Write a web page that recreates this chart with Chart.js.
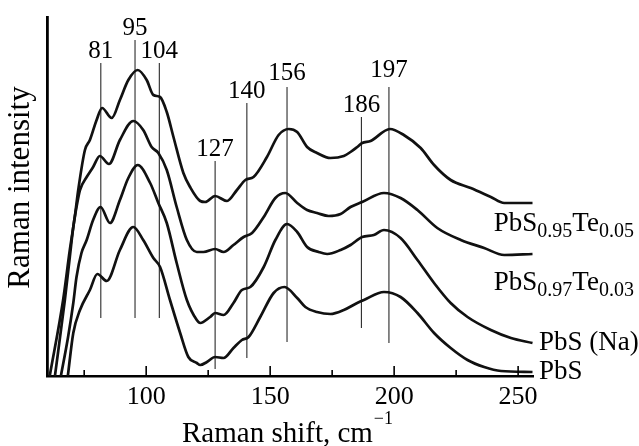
<!DOCTYPE html>
<html>
<head>
<meta charset="utf-8">
<script src="https://cdn.jsdelivr.net/npm/chart.js@4"></script>
<style>
  body { margin: 0; background: #fff; }
</style>
</head>
<body>
<canvas id="ramanChart" width="639" height="446"></canvas>
<script>
// Raman shift (cm-1) and intensity (arb. units), one pair per curve
const shiftTe05 = [61.1, 66.5, 69.2, 71.2, 72.6, 75.3, 77.3, 80.0, 82.2, 86.1, 89.4, 92.8, 96.6, 100.2, 102.9, 105.6, 108.3, 111.0, 115.0, 117.7, 121.8, 123.8, 127.8, 132.6, 136.6, 140.0, 143.3, 148.7, 153.4, 157.5, 160.9, 164.9, 168.9, 174.3, 179.7, 182.4, 185.1, 187.1, 190.5, 198.3, 203.9, 210.7, 216.1, 222.8, 230.9, 239.0, 244.4, 249.8, 255.8];
const intTe05 = [0, 76, 126, 159, 186, 226, 236, 256, 268, 258, 276, 296, 306, 296, 281, 279, 264, 239, 203, 189, 175, 174, 180, 175, 186, 196, 199, 219, 241, 247, 244, 229, 223, 218, 220, 224, 229, 233, 235, 247, 241, 228, 211, 196, 188, 179, 173, 173, 173];

const shiftTe03 = [63.2, 67.2, 69.2, 70.6, 71.9, 73.3, 76.0, 78.6, 81.3, 85.0, 89.4, 94.8, 98.8, 102.2, 104.9, 108.3, 112.3, 116.4, 120.4, 123.1, 127.8, 131.2, 135.2, 139.3, 142.7, 147.4, 152.1, 156.1, 160.9, 164.9, 168.9, 173.6, 178.4, 182.4, 187.1, 195.9, 202.6, 209.4, 217.4, 226.9, 236.3, 244.4, 255.8];
const intTe03 = [0, 76, 119, 149, 169, 186, 199, 209, 220, 212, 236, 255, 246, 229, 223, 206, 169, 136, 124, 124, 127, 124, 131, 139, 143, 159, 178, 183, 173, 166, 163, 160, 162, 169, 174, 183, 178, 166, 148, 136, 128, 121, 122];

const shiftNa = [65.6, 68.5, 70.6, 71.9, 73.9, 76.0, 78.6, 81.6, 85.4, 89.4, 92.8, 96.6, 101.6, 104.9, 108.3, 112.3, 116.4, 120.4, 121.8, 125.8, 127.8, 131.2, 135.2, 138.6, 142.0, 147.4, 152.1, 156.8, 160.9, 164.9, 169.6, 173.0, 178.4, 182.4, 187.1, 191.8, 195.9, 202.6, 209.4, 216.1, 222.8, 229.6, 239.0, 247.1, 255.8];
const intNa = [0, 39, 73, 99, 123, 136, 156, 169, 153, 176, 198, 211, 193, 173, 153, 113, 76, 56, 53, 59, 63, 61, 73, 86, 89, 109, 136, 152, 144, 129, 124, 122, 126, 131, 139, 141, 146, 138, 116, 93, 73, 59, 46, 38, 33];

const shiftPbS = [68.4, 70.6, 73.3, 77.3, 80.3, 84.1, 89.4, 94.8, 98.8, 102.9, 105.6, 109.6, 113.7, 117.0, 120.4, 121.8, 124.5, 127.8, 131.2, 135.2, 138.6, 141.3, 146.0, 151.4, 155.8, 160.9, 164.2, 168.9, 174.3, 179.7, 185.1, 187.8, 195.9, 202.6, 209.4, 216.1, 222.8, 229.6, 236.3, 243.1, 255.8];
const intPbS = [0, 43, 66, 86, 102, 95, 126, 149, 136, 118, 109, 76, 43, 19, 13, 11, 14, 19, 18, 28, 36, 39, 59, 83, 89, 78, 69, 64, 62, 66, 73, 76, 84, 79, 63, 43, 28, 16, 9, 5, 4];

// Curve names, split into normal / subscript pieces
const seriesNames = [
  [['PbS', 0], ['0.95', 1], ['Te', 0], ['0.05', 1]],
  [['PbS', 0], ['0.97', 1], ['Te', 0], ['0.03', 1]],
  [['PbS (Na)', 0]],
  [['PbS', 0]]
];
const seriesLabelX = [240.2, 240.2, 258.4, 258.4];
const seriesLabelY = [145, 86, 26, -3];

// Marked peaks
const peakLabels = ['81', '95', '104', '127', '140', '156', '186', '197'];
const peakPositions = [81.7, 95.5, 105.3, 127.8, 140.6, 156.8, 186.8, 197.9];
const peakLineTop = [313, 336, 313, 215, 273, 289, 259, 289];
const peakLineBottom = [58, 58, 58, 7, 18, 34, 48, 33];
const peakLabelY = [318, 341, 318, 220, 278, 296, 264, 299];

// Axis ticks
const xTicks = [75, 100, 125, 150, 175, 200, 225, 250];

const serif = '"Liberation Serif", "Times New Roman", serif';

function toPoints(xs, ys) {
  return xs.map((x, i) => ({ x: x, y: ys[i] }));
}

function drawFormula(ctx, parts, x, y) {
  let cx = x;
  parts.forEach(([text, sub]) => {
    ctx.font = (sub ? '20px ' : '27px ') + serif;
    ctx.fillText(text, cx, sub ? y + 6 : y);
    cx += ctx.measureText(text).width;
  });
}

// Draws the extra bits: peak guides, inward ticks, axis titles, curve names
const annotate = {
  id: 'annotate',
  beforeDatasetsDraw(chart) {
    const { ctx, scales: { x, y } } = chart;
    ctx.save();
    ctx.strokeStyle = '#2a2a2a';
    ctx.lineWidth = 1.1;
    peakPositions.forEach((p, i) => {
      const px = x.getPixelForValue(p);
      ctx.beginPath();
      ctx.moveTo(px, y.getPixelForValue(peakLineTop[i]));
      ctx.lineTo(px, y.getPixelForValue(peakLineBottom[i]));
      ctx.stroke();
    });
    ctx.restore();
  },
  afterDraw(chart) {
    const { ctx, chartArea, scales: { x, y } } = chart;
    ctx.save();
    ctx.fillStyle = '#000';
    ctx.strokeStyle = '#000';

    // inward tick marks on the x axis
    ctx.lineWidth = 1.6;
    x.ticks.forEach(t => {
      const px = x.getPixelForValue(t.value);
      const len = t.value % 50 === 0 ? 10 : 6;
      ctx.beginPath();
      ctx.moveTo(px, chartArea.bottom);
      ctx.lineTo(px, chartArea.bottom - len);
      ctx.stroke();
    });

    // peak labels
    ctx.font = '25px ' + serif;
    ctx.textAlign = 'center';
    ctx.textBaseline = 'alphabetic';
    peakLabels.forEach((lab, i) => {
      ctx.fillText(lab, x.getPixelForValue(peakPositions[i]), y.getPixelForValue(peakLabelY[i]));
    });

    // curve names
    ctx.textAlign = 'left';
    seriesNames.forEach((parts, i) => {
      drawFormula(ctx, parts, x.getPixelForValue(seriesLabelX[i]), y.getPixelForValue(seriesLabelY[i]));
    });

    // x title with superscript
    const main = 'Raman shift, cm';
    const sup = '\u22121';
    ctx.textBaseline = 'alphabetic';
    ctx.font = '29px ' + serif;
    const w1 = ctx.measureText(main).width;
    ctx.font = '18px ' + serif;
    const w2 = ctx.measureText(sup).width;
    const startX = (chartArea.left + chartArea.right) / 2 - 3 - (w1 + w2) / 2;
    ctx.font = '29px ' + serif;
    ctx.fillText(main, startX, 442);
    ctx.font = '18px ' + serif;
    ctx.fillText(sup, startX + w1 + 1, 424);

    // y title
    ctx.translate(21, (chartArea.top + chartArea.bottom) / 2 - 9);
    ctx.rotate(-Math.PI / 2);
    ctx.textAlign = 'center';
    ctx.textBaseline = 'middle';
    ctx.font = '31px ' + serif;
    ctx.fillText('Raman intensity', 0, 0);
    ctx.restore();
  }
};

const curves = [
  toPoints(shiftTe05, intTe05),
  toPoints(shiftTe03, intTe03),
  toPoints(shiftNa, intNa),
  toPoints(shiftPbS, intPbS)
];

new Chart(document.getElementById('ramanChart'), {
  type: 'line',
  data: {
    datasets: curves.map(pts => ({
      data: pts,
      borderColor: '#111',
      borderWidth: 2.7,
      pointRadius: 0,
      fill: false,
      cubicInterpolationMode: 'monotone'
    }))
  },
  options: {
    responsive: false,
    animation: false,
    events: [],
    layout: { padding: { top: 17, right: 106, bottom: 0, left: 0 } },
    plugins: {
      legend: { display: false },
      tooltip: { enabled: false }
    },
    scales: {
      x: {
        type: 'linear',
        min: 60,
        max: 256,
        afterBuildTicks: s => { s.ticks = xTicks.map(v => ({ value: v })); },
        afterFit: s => { s.height = 70; },
        grid: { display: false, drawTicks: false },
        border: { display: true, color: '#000', width: 2.6 },
        ticks: {
          color: '#000',
          padding: 6,
          maxRotation: 0,
          autoSkip: false,
          font: { family: serif, size: 26, lineHeight: 1.2 },
          callback: v => (v % 50 === 0 ? String(v) : '')
        }
      },
      y: {
        type: 'linear',
        min: 0,
        max: 359,
        afterFit: s => { s.width = 47; },
        grid: { display: false, drawTicks: false },
        border: { display: true, color: '#000', width: 2.8 },
        ticks: { display: false }
      }
    }
  },
  plugins: [annotate]
});
</script>
</body>
</html>
